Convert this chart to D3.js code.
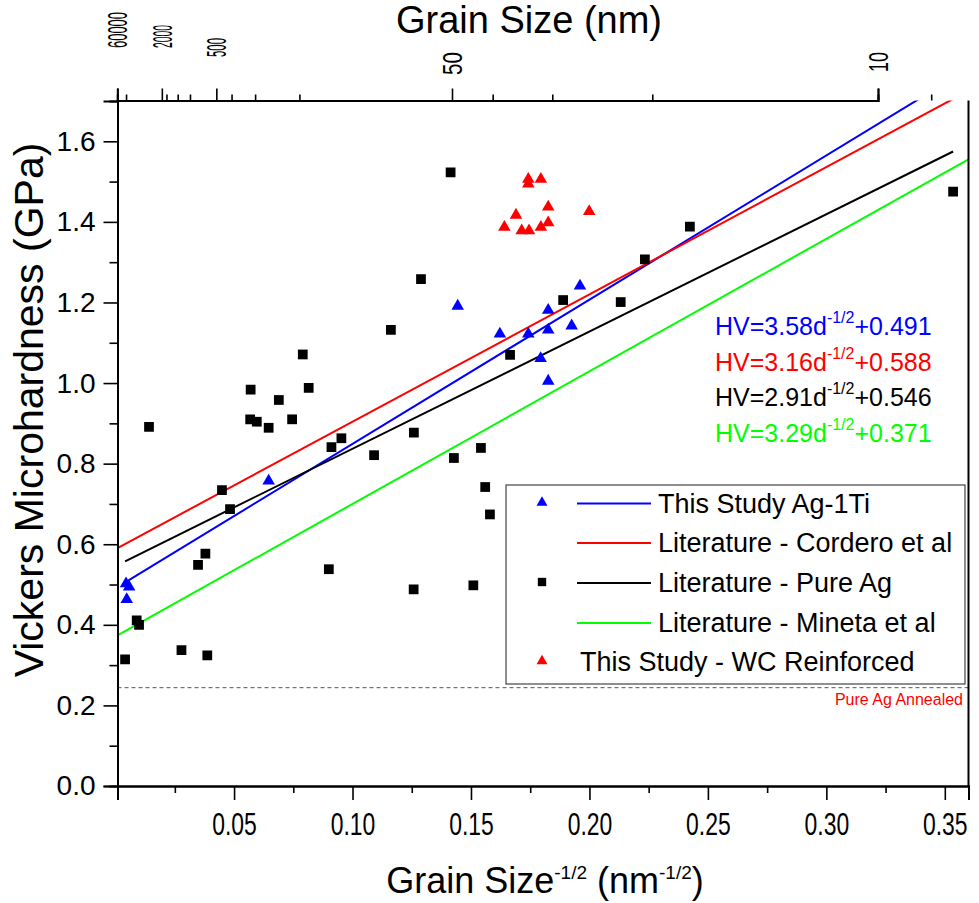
<!DOCTYPE html>
<html><head><meta charset="utf-8">
<script src="https://cdn.jsdelivr.net/npm/d3@7"></script>
<style>
body{margin:0;background:#fff}
svg text{font-family:"Liberation Sans",Arial,sans-serif;fill:#000}
</style></head><body>
<svg id="c" width="979" height="903"></svg>
<script>
// ---------------- data ----------------
const ag1tiX = [0.0044,0.0057,0.0047,0.0646,0.1444,0.1622,0.1742,0.1826,0.1826,0.1925,0.1960,0.1794,0.1826];
const ag1tiY = [0.502,0.494,0.463,0.757,1.191,1.122,1.122,1.181,1.132,1.142,1.241,1.061,1.005];

const wcX = [0.1742,0.1742,0.1795,0.1826,0.1690,0.1999,0.1641,0.1714,0.1745,0.1795,0.1826];
const wcY = [1.506,1.494,1.506,1.437,1.417,1.426,1.387,1.378,1.378,1.387,1.398];

const pureAgX = [0.0040,0.0089,0.0099,0.0141,0.0278,0.0387,0.0348,0.0379,0.0449,0.0483,
                 0.0568,0.0596,0.0570,0.0646,0.0689,0.0745,0.0790,0.0815,0.0911,0.0953,
                 0.0900,0.1091,0.1162,0.1259,0.1258,0.1289,0.1414,0.1428,0.1510,0.1542,
                 0.1560,0.1580,0.1665,0.1889,0.2132,0.2234,0.2424,0.3535];
const pureAgY = [0.314,0.411,0.400,0.891,0.337,0.324,0.549,0.577,0.734,0.687,
                 0.910,0.904,0.984,0.889,0.958,0.910,1.071,0.988,0.841,0.863,
                 0.538,0.821,1.132,0.877,0.488,1.258,1.523,0.814,0.498,0.839,
                 0.742,0.674,1.070,1.206,1.201,1.307,1.388,1.475];

const fitNames = ["This Study Ag-1Ti","Literature - Cordero et al","Literature - Pure Ag","Literature - Mineta et al"];
const fitSlope = [3.58,3.16,2.91,3.29];
const fitIntercept = [0.491,0.588,0.546,0.371];
const fitStart = [0.0044,0.0008,0.0040,0.0008];
const fitEnd = [0.36,0.36,0.3535,0.36];
const fitLabelCoef = ["3.58","3.16","2.91","3.29"];
const fitLabelConst = ["+0.491","+0.588","+0.546","+0.371"];

const xTicks = [0.05,0.10,0.15,0.20,0.25,0.30,0.35];
const xMinorTicks = [0.025,0.075,0.125,0.175,0.225,0.275,0.325];
const yTicks = [0.0,0.2,0.4,0.6,0.8,1.0,1.2,1.4,1.6];
const yMinorTicks = [0.1,0.3,0.5,0.7,0.9,1.1,1.3,1.5];
const topTicks = [60000,2000,500,50,10];
const topMinorTicks = [17000,1700,1200,870,385,272,161,40,30,20,8.75];
const annealedHV = 0.244;

// ---------------- styles ----------------
const C = {blue:"#0000ff", red:"#ff0000", black:"#000000", green:"#00ff00"};
const fitColors = [C.blue, C.red, C.black, C.green];
const topLabelStartY = [48,48,57,75,72];
const topLabelLen = [36,23,19,23,20];

const svg = d3.select("#c");
const L = 117.5, R = 968.5, T = 100.5, B = 786;
const x = d3.scaleLinear().domain([0.0008,0.36]).range([L,R]);
const y = d3.scaleLinear().domain([0,1.7]).range([B,101]);
const xTop = d3.scalePow().exponent(-0.5).domain([60000,10]).range([117.3,878]);

svg.append("defs").append("clipPath").attr("id","clip")
  .append("rect").attr("x",L).attr("y",T).attr("width",R-L).attr("height",B-T);

// dashed annealed line
svg.append("line").attr("x1",L).attr("x2",R).attr("y1",y(annealedHV)).attr("y2",y(annealedHV))
  .attr("stroke","#555").attr("stroke-width",1).attr("stroke-dasharray","4,3");
svg.append("text").attr("x",963).attr("y",705).attr("text-anchor","end")
  .style("font-size","16px").style("fill",C.red).text("Pure Ag Annealed");

// fit lines
const plot = svg.append("g").attr("clip-path","url(#clip)");
fitSlope.forEach((m,i)=>{
  const pts = [fitStart[i], fitEnd[i]].map(v=>[v, m*v+fitIntercept[i]]);
  plot.append("path").attr("d", d3.line().x(d=>x(d[0])).y(d=>y(d[1]))(pts))
    .attr("fill","none").attr("stroke",fitColors[i]).attr("stroke-width",2);
});

// points
const sq = d3.symbol().type(d3.symbolSquare).size(95);
const tri = d3.symbol().type(d3.symbolTriangle).size(68);
plot.selectAll(".ag").data(pureAgX).join("path")
  .attr("d",sq).attr("transform",(d,i)=>`translate(${x(d)},${y(pureAgY[i])})`).attr("fill","#000");
plot.selectAll(".ti").data(ag1tiX).join("path")
  .attr("d",tri).attr("transform",(d,i)=>`translate(${x(d)},${y(ag1tiY[i])})`).attr("fill",C.blue);
plot.selectAll(".wc").data(wcX).join("path")
  .attr("d",tri).attr("transform",(d,i)=>`translate(${x(d)},${y(wcY[i])})`).attr("fill",C.red);

// equations
const eqY0 = 335, eqDY = 35.5;
fitSlope.forEach((m,i)=>{
  const t = svg.append("text").attr("x",715).attr("y",eqY0+i*eqDY)
    .style("font-size","25px").style("fill",fitColors[i]);
  t.append("tspan").text("HV="+fitLabelCoef[i]+"d");
  t.append("tspan").attr("dy",-12).style("font-size","16px").text("-1/2");
  t.append("tspan").attr("dy",12).text(fitLabelConst[i]);
});

// legend
const lg = svg.append("g");
lg.append("rect").attr("x",506).attr("y",485).attr("width",459).attr("height",199)
  .attr("fill","#fff").attr("stroke","#444").attr("stroke-width",1.2);
const rowY = [503.5,543,583,623,662];
const legMarkers = [{t:"tri",c:C.blue},null,{t:"sq",c:"#000"},null,{t:"tri",c:C.red}];
fitNames.forEach((n,i)=>{
  lg.append("line").attr("x1",577).attr("x2",651).attr("y1",rowY[i]).attr("y2",rowY[i])
    .attr("stroke",fitColors[i]).attr("stroke-width",2);
  lg.append("text").attr("x",658).attr("y",rowY[i]).attr("dy","0.35em").style("font-size","27px").text(n);
});
lg.append("text").attr("x",580).attr("y",rowY[4]).attr("dy","0.35em").style("font-size","27px").text("This Study - WC Reinforced");
legMarkers.forEach((m,i)=>{
  if(!m) return;
  lg.append("path").attr("d", m.t==="tri" ? d3.symbol().type(d3.symbolTriangle).size(52)() : d3.symbol().type(d3.symbolSquare).size(70)())
    .attr("transform",`translate(542,${rowY[i]-1})`).attr("fill",m.c);
});

// axes
const ax = svg.append("g");
// bottom
const gB = ax.append("g").attr("transform",`translate(0,${B})`)
  .call(d3.axisBottom(x).tickValues(xTicks).tickSize(14).tickFormat(d3.format(".2f")));
gB.selectAll("text").style("font-size","31px").attr("y",27).attr("dy","0.71em")
  .attr("transform","scale(0.74,1)");
ax.append("g").attr("transform",`translate(0,${B})`)
  .call(d3.axisBottom(x).tickValues(xMinorTicks).tickSize(7).tickFormat(""));
// left
const gL = ax.append("g").attr("transform",`translate(${L},0)`)
  .call(d3.axisLeft(y).tickValues(yTicks).tickSize(14).tickFormat(d3.format(".1f")));
gL.selectAll("text").style("font-size","28px").attr("x",-22);
ax.append("g").attr("transform",`translate(${L},0)`)
  .call(d3.axisLeft(y).tickValues(yMinorTicks).tickSize(8).tickFormat(""));
// top
ax.append("g").attr("transform",`translate(0,${T})`)
  .call(d3.axisTop(xTop).tickValues(topTicks).tickSize(12).tickFormat(""));
ax.append("g").attr("transform",`translate(0,${T})`)
  .call(d3.axisTop(xTop).tickValues(topMinorTicks).tickSize(6).tickFormat(""));
const topLab = svg.append("g").selectAll("text").data(topTicks).join("text")
  .attr("dy","0.36em").style("font-size","27px").text(d=>d);
topLab.each(function(d,i){
  const w = this.getComputedTextLength();
  const s = topLabelLen[i]/w;
  d3.select(this).attr("transform",`translate(${xTop(d)},${topLabelStartY[i]}) rotate(-90) scale(${s},1)`);
});
// right line
ax.append("line").attr("x1",R).attr("x2",R).attr("y1",T).attr("y2",B).attr("stroke","#000").attr("stroke-width",2);
ax.selectAll(".domain").attr("stroke-width",2).attr("stroke","#000");
ax.selectAll(".tick line").attr("stroke-width",1.6);

// titles
svg.append("text").attr("x",529).attr("y",33).attr("text-anchor","middle").style("font-size","38px").text("Grain Size (nm)");
const xt = svg.append("text").attr("x",545).attr("y",893).attr("text-anchor","middle")
  .style("font-size","36px");
xt.append("tspan").text("Grain Size");
xt.append("tspan").attr("dy",-14).style("font-size","19px").text("-1/2");
xt.append("tspan").attr("dy",14).text(" (nm");
xt.append("tspan").attr("dy",-14).style("font-size","19px").text("-1/2");
xt.append("tspan").attr("dy",14).text(")");
svg.append("text").attr("transform","translate(43,410) rotate(-90)").attr("text-anchor","middle")
  .style("font-size","41px").text("Vickers Microhardness (GPa)");
</script>
</body></html>
